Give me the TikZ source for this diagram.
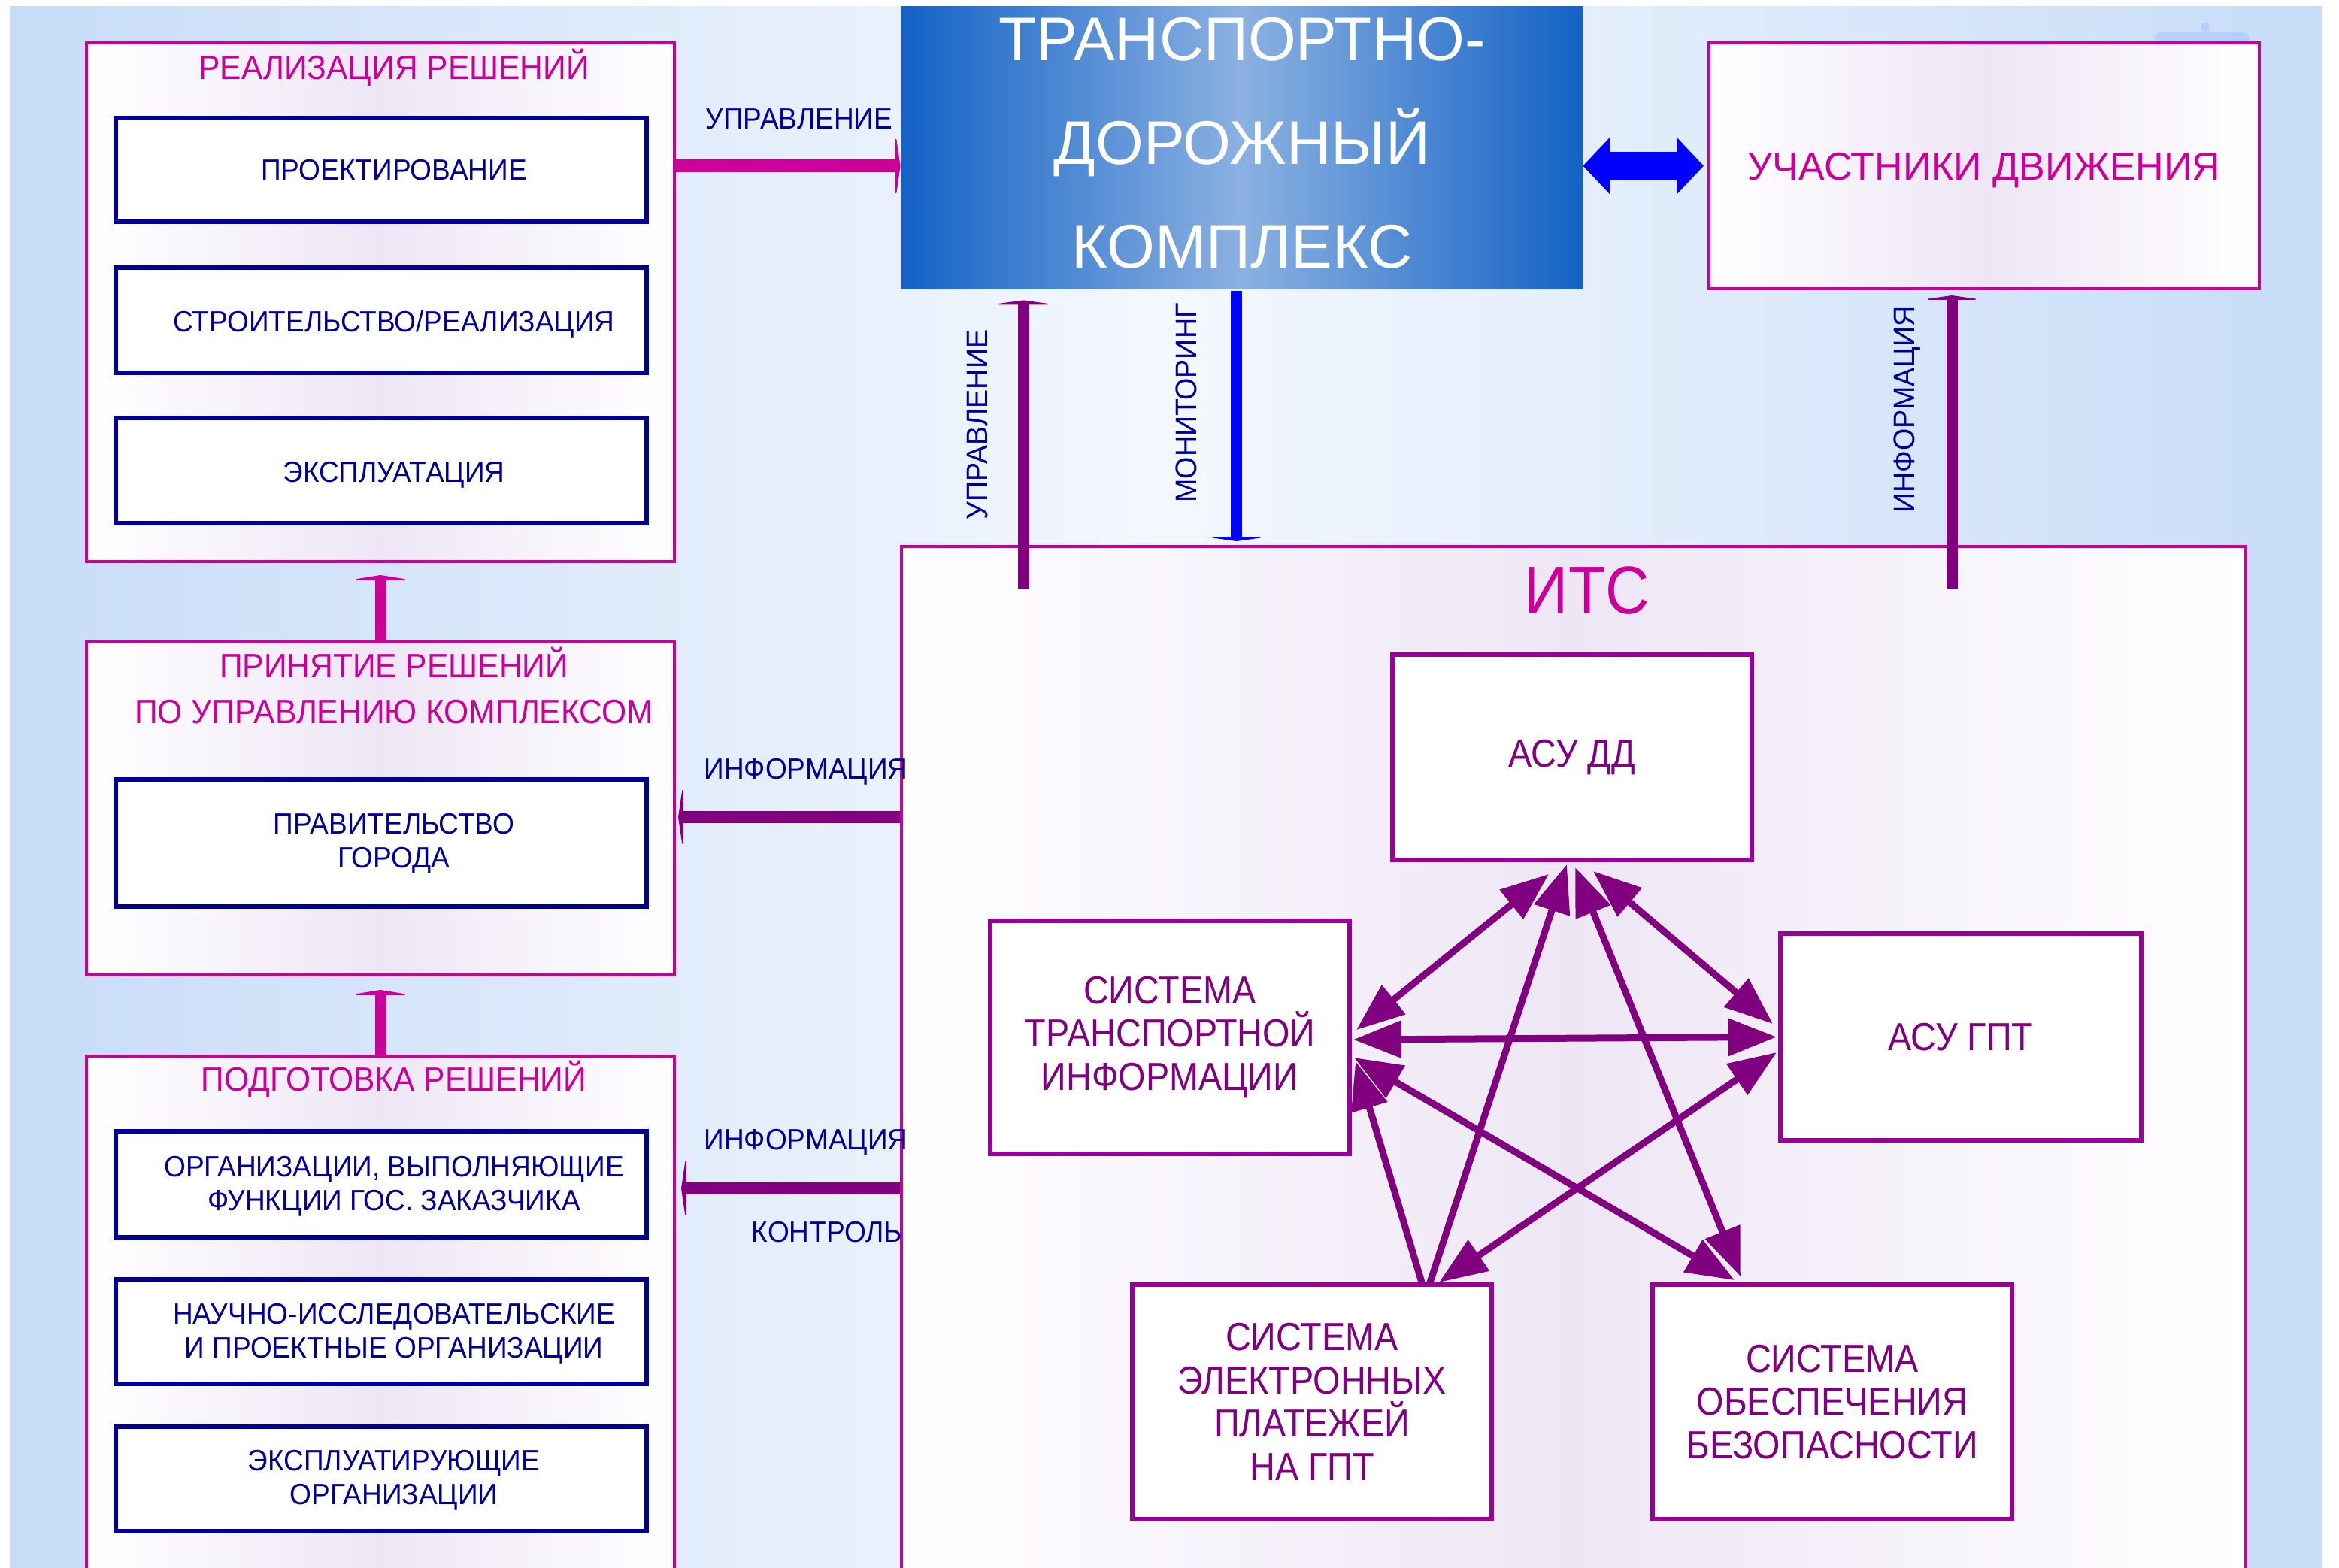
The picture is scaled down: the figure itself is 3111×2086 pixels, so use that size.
\documentclass[tikz,border=0pt]{standalone}
\usepackage{fontspec}
\setmainfont{Liberation Sans}
\newfontfamily\nf[FakeStretch=0.95]{Liberation Sans}
\newfontfamily\itf[FakeStretch=0.9]{Liberation Sans}
\usetikzlibrary{arrows.meta,calc}
\definecolor{mag}{HTML}{CC0099}
\definecolor{navy}{HTML}{000099}
\definecolor{purp}{HTML}{800080}
\definecolor{purpb}{HTML}{990099}
\definecolor{bgedge}{HTML}{C8DCF8}
\definecolor{bgmid}{HTML}{F4F8FE}
\definecolor{lav}{HTML}{EEE6F5}
\definecolor{tdk}{HTML}{1462C6}
\definecolor{tdkl}{HTML}{8BB1E1}
\definecolor{blueA}{HTML}{0000FF}
\definecolor{blobc}{HTML}{A9C6FA}
\begin{document}
\begin{tikzpicture}[x=0.5pt,y=-0.5pt,
  obox/.style={draw=mag, line width=2pt, left color=white, right color=white, middle color=lav, inner sep=0pt},
  nbox/.style={draw=navy, line width=3pt, fill=white, inner sep=0pt, minimum width=353pt},
  ibox/.style={draw=purpb, line width=3pt, fill=white, inner sep=0pt, text=purp, align=center,
    font=\itf\fontsize{26pt}{28.75pt}\selectfont},
  ttl/.style={text=mag, font=\nf\fontsize{22.4pt}{30.5pt}\selectfont, align=center, inner sep=0pt},
  ttl1/.style={ttl, text height=16pt, text depth=0pt},
  ntx/.style={text=navy, font=\nf\fontsize{19.5pt}{22.5pt}\selectfont, align=center, inner sep=0pt},
  ntx1/.style={ntx, text height=14pt, text depth=0pt},
  vlbl/.style={text=navy, font=\nf\fontsize{19.8pt}{22.5pt}\selectfont, inner sep=0pt, text height=14.2pt, text depth=0pt, rotate=90},
  magarr/.style={draw=mag},
  purarr/.style={draw=purp},
  bluearr/.style={draw=blueA},
  pent/.style={draw=purp, line width=4.5pt, >={Triangle[length=32pt,width=24pt]}}
]
\useasboundingbox (0,0) rectangle (3111,2086);
\clip (0,0) rectangle (3111,2086);
\fill[white] (0,0) rectangle (3111,2086);
\shade[left color=bgedge, right color=bgedge, middle color=bgmid] (13,9) rectangle (3088,2100);
% faint blob top right
\fill[blobc, opacity=0.6, rounded corners=5pt] (2866,42) rectangle (2992,60);
\fill[blobc, opacity=0.6] (2933,36) circle (6);

% left column outer boxes
\node[obox, minimum width=391pt, minimum height=345pt] (r1) at (506,402) {};
\node[obox, minimum width=391pt, minimum height=221.5pt] (r2) at (506,1075.5) {};
\node[obox, minimum width=391pt, minimum height=371.5pt] (r3) at (506,1776.5) {};
% inner navy boxes
\node[nbox, minimum height=69pt] (proj) at (507,226) {};
\node[nbox, minimum height=70pt] (stroi) at (507,426) {};
\node[nbox, minimum height=70pt] (expl) at (507,626) {};
\node[nbox, minimum height=84.5pt] (prav) at (507,1121.5) {};
\node[nbox, minimum height=70.5pt] (org) at (507,1575.5) {};
\node[nbox, minimum height=69.5pt] (nauch) at (507,1771.5) {};
\node[nbox, minimum height=69.5pt] (expl2) at (507,1967.5) {};

% transport complex
\node[left color=tdk, right color=tdk, middle color=tdkl, minimum width=453.5pt, minimum height=188pt,
  inner sep=0pt] (tdk) at (1651.5,197) {};
\node[text=white, align=center, inner sep=0pt, font=\fontsize{41pt}{69pt}\selectfont] (tdkt) at (1652,190)
  {ТРАНСПОРТНО-\\ДОРОЖНЫЙ\\КОМПЛЕКС};
% participants
\node[obox, minimum width=366pt, minimum height=163.5pt, text=mag, font=\fontsize{26pt}{30pt}\selectfont,
  text height=18.6pt, text depth=0pt] (uch) at (2639,220.5) {УЧАСТНИКИ ДВИЖЕНИЯ};
% ITS
\node[obox, minimum width=894pt, minimum height=710.5pt] (its) at (2093,1437.5) {};
\node[text=mag, font=\itf\fontsize{45pt}{50pt}\selectfont, inner sep=0pt, text height=32.2pt, text depth=0pt]
  (itst) at (2111,784) {ИТС};
\node[ibox, minimum width=239pt, minimum height=136.5pt] (dd) at (2091,1007.5) {АСУ ДД};
\node[ibox, minimum width=239pt, minimum height=155pt] (sti) at (1556,1380) {СИСТЕМА\\ТРАНСПОРТНОЙ\\ИНФОРМАЦИИ};
\node[ibox, minimum width=240pt, minimum height=137.5pt] (gpt) at (2608,1379.5) {АСУ ГПТ};
\node[ibox, minimum width=239pt, minimum height=156pt] (sep) at (1745,1865) {СИСТЕМА\\ЭЛЕКТРОННЫХ\\ПЛАТЕЖЕЙ\\НА ГПТ};
\node[ibox, minimum width=239pt, minimum height=156pt] (bez) at (2437,1865) {СИСТЕМА\\ОБЕСПЕЧЕНИЯ\\БЕЗОПАСНОСТИ};

% connector anchors
\coordinate (a1s) at ($(r1.north east)+(0,166)$);
\coordinate (a4s) at ($(its.north west)+(0,362)$);
\coordinate (a5s) at ($(its.north west)+(0,856)$);
\coordinate (a6s) at ($(its.north west)+(164,59)$);
\coordinate (a7s) at ($(tdk.south west)+(447,2)$);
\coordinate (a8s) at ($(its.north west)+(1399,59)$);
\coordinate (a9s) at ($(tdk.north east)+(0,212)$);

% arrows outside ITS
\draw[magarr, line width=8.5pt, -{Triangle[length=3.5pt,width=48pt]}] (a1s) -- (a1s -| tdk.west);
\draw[magarr, line width=7.5pt, -{Triangle[length=3.5pt,width=43.5pt]}, shorten >=8pt] (r2.north) -- (r1.south);
\draw[magarr, line width=7.5pt, -{Triangle[length=3.5pt,width=43.5pt]}, shorten >=9pt] (r3.north) -- (r2.south);
\draw[purarr, line width=8pt, -{Triangle[length=3.5pt,width=47.5pt]}, shorten >=1.5pt] (a4s) -- (a4s -| r2.east);
\draw[purarr, line width=8pt, -{Triangle[length=3.5pt,width=47.5pt]}, shorten >=3.5pt] (a5s) -- (a5s -| r3.east);
\draw[purarr, line width=7.5pt, -{Triangle[length=3pt,width=43.5pt]}, shorten >=7pt] (a6s) -- (a6s |- tdk.south);
\draw[bluearr, line width=7.5pt, -{Triangle[length=3pt,width=42.5pt]}, shorten >=2.5pt] (a7s) -- (a7s |- its.north);
\draw[purarr, line width=7.5pt, -{Triangle[length=3pt,width=42pt]}, shorten >=3.5pt] (a8s) -- (a8s |- uch.south);
\draw[bluearr, line width=19pt, {Triangle[length=18pt,width=37pt]}-{Triangle[length=18pt,width=37pt]}, shorten >=2.5pt]
  (a9s) -- (a9s -| uch.west);

% pentagram
\draw[pent, <->] ($(sti.east)+(6,-10)$) -- ($(dd.south)+(-31,16)$);
\draw[pent, ->] ($(sep.north)+(157,0)$) -- ($(dd.south)+(-7,3)$);
\draw[pent, <->] ($(dd.south)+(4,7)$) -- ($(bez.north)+(-122,-8)$);
\draw[pent, <->] ($(dd.south)+(28,12)$) -- ($(gpt.west)+(-7,-17.5)$);
\draw[pent, <->] ($(sti.east)+(2,3)$) -- ($(gpt.west)+(-2,0)$);
\draw[pent, <->] ($(sti.east)+(3,27)$) -- ($(bez.north)+(-130,-3)$);
\draw[pent, ->] ($(sep.north)+(146,0)$) -- ($(sti.east)+(5,32)$);
\draw[pent, <->] ($(gpt.west)+(-2,20.5)$) -- ($(sep.north)+(169,0)$);

% left column texts
\node[ttl1] (t1) at (524,90) {РЕАЛИЗАЦИЯ РЕШЕНИЙ};
\node[ntx1] (tproj) at (524,226) {ПРОЕКТИРОВАНИЕ};
\node[ntx1] (tstroi) at (524,428) {СТРОИТЕЛЬСТВО/РЕАЛИЗАЦИЯ};
\node[ntx1] (texpl) at (524,627) {ЭКСПЛУАТАЦИЯ};
\node[ttl] (t2) at (524,912) {ПРИНЯТИЕ РЕШЕНИЙ\\ПО УПРАВЛЕНИЮ КОМПЛЕКСОМ};
\node[ntx] (tprav) at (524,1122) {ПРАВИТЕЛЬСТВО\\ГОРОДА};
\node[ttl1] (t3) at (524,1435) {ПОДГОТОВКА РЕШЕНИЙ};
\node[ntx] (torg) at (524,1578) {ОРГАНИЗАЦИИ, ВЫПОЛНЯЮЩИЕ\\ФУНКЦИИ ГОС. ЗАКАЗЧИКА};
\node[ntx] (tnauch) at (524,1774) {НАУЧНО-ИССЛЕДОВАТЕЛЬСКИЕ\\И ПРОЕКТНЫЕ ОРГАНИЗАЦИИ};
\node[ntx] (texpl2) at (524,1969) {ЭКСПЛУАТИРУЮЩИЕ\\ОРГАНИЗАЦИИ};

% connector labels
\node[ntx1] (lu) at (1063,158) {УПРАВЛЕНИЕ};
\node[ntx1] (li1) at (1072,1022) {ИНФОРМАЦИЯ};
\node[ntx1] (li2) at (1072,1515) {ИНФОРМАЦИЯ};
\node[ntx1] (lk) at (1100,1638) {КОНТРОЛЬ};
\node[vlbl] (lvu) at (1299,565) {УПРАВЛЕНИЕ};
\node[vlbl] (lvm) at (1577,536) {МОНИТОРИНГ};
\node[vlbl] (lvi) at (2532,545) {ИНФОРМАЦИЯ};
\end{tikzpicture}
\end{document}
